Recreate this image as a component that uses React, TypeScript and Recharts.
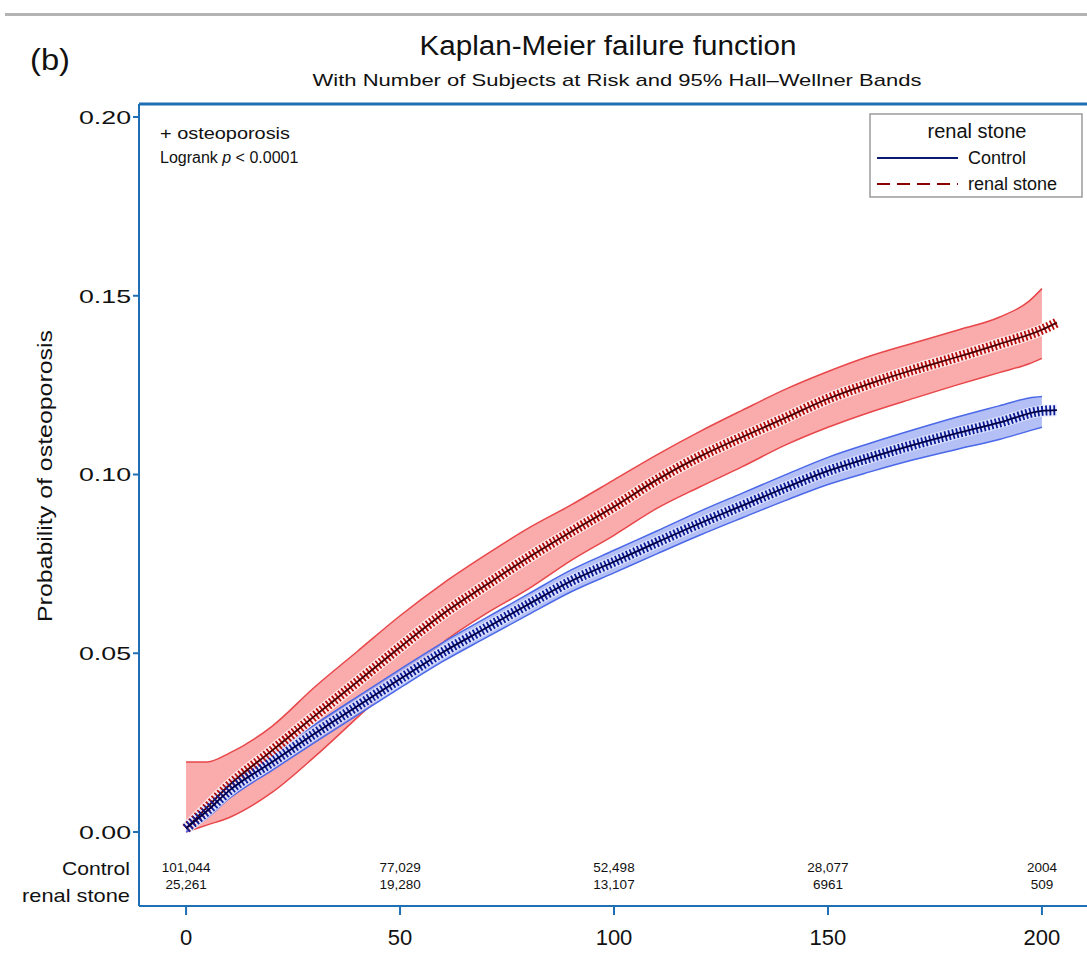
import {
  ComposedChart,
  Area,
  Line,
  Scatter,
  XAxis,
  YAxis,
  ReferenceLine,
} from "recharts";

// follow-up time points (months) for the KM estimates
const lineTimes = [0, 5, 10, 20, 30, 40, 50, 60, 70, 80, 90, 100, 110, 120, 130, 140, 150, 160, 170, 180, 190, 200, 203.5];
const controlKm = [0.001, 0.006, 0.0115, 0.0195, 0.0275, 0.0352, 0.0428, 0.0503, 0.057, 0.0637, 0.0702, 0.0756, 0.081, 0.0863, 0.0913, 0.0963, 0.101, 0.1048, 0.1083, 0.1115, 0.1145, 0.1178, 0.118];
const stoneKm = [0.001, 0.007, 0.013, 0.0227, 0.0324, 0.042, 0.0517, 0.061, 0.069, 0.0768, 0.084, 0.091, 0.0985, 0.105, 0.1105, 0.1158, 0.1212, 0.1255, 0.1293, 0.1328, 0.1365, 0.1405, 0.1425];

// 95% Hall-Wellner bands
const bandTimes = [0, 5, 10, 20, 30, 40, 50, 60, 70, 80, 90, 100, 110, 120, 130, 140, 150, 160, 170, 180, 190, 197, 200];
const controlLow = [0.0, 0.004, 0.0093, 0.0172, 0.025, 0.0327, 0.0403, 0.0477, 0.0543, 0.0608, 0.0672, 0.0725, 0.0778, 0.083, 0.0879, 0.0927, 0.0972, 0.1008, 0.1041, 0.107, 0.1098, 0.1122, 0.1132];
const controlHigh = [0.003, 0.0082, 0.0138, 0.0219, 0.03, 0.0378, 0.0455, 0.053, 0.0598, 0.0666, 0.0733, 0.0788, 0.0842, 0.0897, 0.0948, 0.0999, 0.1048, 0.1088, 0.1125, 0.116, 0.1192, 0.1214, 0.1218];
const stoneLow = [0.0, 0.002, 0.004, 0.011, 0.021, 0.032, 0.043, 0.053, 0.061, 0.068, 0.076, 0.083, 0.0905, 0.0965, 0.1022, 0.1082, 0.1132, 0.1175, 0.1213, 0.125, 0.1285, 0.131, 0.1325];
const stoneHigh = [0.0196, 0.0196, 0.022, 0.0295, 0.0405, 0.0505, 0.0605, 0.0695, 0.0775, 0.085, 0.0915, 0.0985, 0.1055, 0.112, 0.118, 0.1238, 0.1288, 0.1332, 0.1368, 0.1403, 0.144, 0.1485, 0.152];

// number at risk table
const riskTimes = [0, 50, 100, 150, 200];
const riskControl = ["101,044", "77,029", "52,498", "28,077", "2004"];
const riskStone = ["25,261", "19,280", "13,107", "6961", "509"];

const xTicks = [0, 50, 100, 150, 200];
const yTicks = [0, 0.05, 0.1, 0.15, 0.2];

const AXIS = "#1f6fb4";
const FONT = "'Liberation Sans', Arial, sans-serif";
const X_DOMAIN: [number, number] = [-11, 212.4];
const Y_DOMAIN: [number, number] = [-0.0207, 0.20364];

const lineData = lineTimes.map((t, i) => ({ t, control: controlKm[i], stone: stoneKm[i] }));
const bandData = bandTimes.map((t, i) => ({
  t,
  controlBand: [controlLow[i], controlHigh[i]],
  stoneBand: [stoneLow[i], stoneHigh[i]],
}));
const CONTROL_ROW = -0.0097;
const STONE_ROW = -0.0146;
const riskData = [
  ...riskTimes.map((t, i) => ({ t, y: CONTROL_ROW, n: riskControl[i] })),
  ...riskTimes.map((t, i) => ({ t, y: STONE_ROW, n: riskStone[i] })),
];

function YTick(props: any) {
  const { x, y, payload } = props;
  return (
    <text x={x} y={y} dy="0.36em" textAnchor="end" fontSize={19} fontFamily={FONT} fill="#111" textLength={52} lengthAdjust="spacingAndGlyphs">
      {payload.value.toFixed(2)}
    </text>
  );
}

function XTick(props: any) {
  const { x, y, payload } = props;
  return (
    <text x={x} y={y + 30} textAnchor="middle" fontSize={22} fontFamily={FONT} fill="#111">
      {payload.value}
    </text>
  );
}

function RiskLabel(props: any) {
  const { cx, cy, payload } = props;
  return (
    <text x={cx} y={cy} dy="0.36em" textAnchor="middle" fontSize={13.5} fontFamily={FONT} fill="#111">
      {payload.n}
    </text>
  );
}

export default function App() {
  return (
    <div style={{ position: "absolute", left: 0, top: 0, width: 1087, height: 953, overflow: "hidden", background: "#fff" }}>
      <div style={{ position: "absolute", left: 5, right: 0, top: 13, height: 3, background: "#b4b4b4" }} />
      <ComposedChart
        width={1100}
        height={953}
        margin={{ top: 104, right: 5, left: 0, bottom: 0 }}
        style={{ position: "absolute", left: 0, top: 0 }}
      >
        <XAxis
          dataKey="t"
          type="number"
          domain={X_DOMAIN}
          allowDataOverflow
          ticks={xTicks}
          height={47}
          tickSize={9}
          tickMargin={0}
          stroke={AXIS}
          axisLine={{ stroke: AXIS, strokeWidth: 2 }}
          tickLine={{ stroke: AXIS, strokeWidth: 2 }}
          tick={<XTick />}
        />
        <YAxis
          type="number"
          domain={Y_DOMAIN}
          allowDataOverflow
          ticks={yTicks}
          width={139}
          tickSize={6}
          tickMargin={2}
          axisLine={{ stroke: AXIS, strokeWidth: 2 }}
          tickLine={{ stroke: AXIS, strokeWidth: 2 }}
          tick={<YTick />}
        />
        <ReferenceLine y={Y_DOMAIN[1]} stroke={AXIS} strokeWidth={3} ifOverflow="visible" />
        <Area data={bandData} dataKey="stoneBand" type="monotone" stroke="#e8474a" strokeWidth={1.5} fill="#f88f8f" fillOpacity={0.75} isAnimationActive={false} />
        <Area data={bandData} dataKey="controlBand" type="monotone" stroke="#4a68e8" strokeWidth={1.5} fill="#9aaaf2" fillOpacity={0.75} isAnimationActive={false} />
        <Line data={lineData} dataKey="stone" type="monotone" stroke="#ffffff" strokeOpacity={0.75} strokeWidth={12} dot={false} isAnimationActive={false} />
        <Line data={lineData} dataKey="control" type="monotone" stroke="#e4e8ff" strokeOpacity={0.8} strokeWidth={12} dot={false} isAnimationActive={false} />
        <Line data={lineData} dataKey="stone" type="monotone" stroke="#b80c0c" strokeWidth={10} strokeDasharray="1.8 2.2" dot={false} isAnimationActive={false} />
        <Line data={lineData} dataKey="stone" type="monotone" stroke="#4a0000" strokeWidth={1.8} dot={false} isAnimationActive={false} />
        <Line data={lineData} dataKey="control" type="monotone" stroke="#0c1c98" strokeWidth={10} strokeDasharray="1.8 2.2" dot={false} isAnimationActive={false} />
        <Line data={lineData} dataKey="control" type="monotone" stroke="#000048" strokeWidth={1.8} dot={false} isAnimationActive={false} />
        <Scatter data={riskData} dataKey="y" shape={<RiskLabel />} isAnimationActive={false} />
      </ComposedChart>

      <svg width={1087} height={953} style={{ position: "absolute", left: 0, top: 0, pointerEvents: "none" }}>
        <text x={30} y={70} fontSize={30} fontFamily={FONT} fill="#111" textLength={40} lengthAdjust="spacingAndGlyphs">(b)</text>
        <text x={608} y={55} textAnchor="middle" fontSize={27} fontFamily="'Liberation Sans Narrow', 'Liberation Sans', sans-serif" fill="#111" textLength={377} lengthAdjust="spacingAndGlyphs">
          Kaplan-Meier failure function
        </text>
        <text x={617} y={86} textAnchor="middle" fontSize={17} fontFamily="'Liberation Sans Narrow', 'Liberation Sans', sans-serif" fill="#111" textLength={609} lengthAdjust="spacingAndGlyphs">
          With Number of Subjects at Risk and 95% Hall–Wellner Bands
        </text>
        <text x={160} y={139} fontSize={16} fontFamily={FONT} fill="#111" textLength={130} lengthAdjust="spacingAndGlyphs">+ osteoporosis</text>
        <text x={160} y={163} fontSize={16} fontFamily={FONT} fill="#111">
          Logrank <tspan fontStyle="italic">p</tspan> &lt; 0.0001
        </text>
        <text transform="translate(45,476) rotate(-90)" textAnchor="middle" dy="0.36em" fontSize={20} fontFamily={FONT} fill="#111" textLength={292} lengthAdjust="spacingAndGlyphs">
          Probability of osteoporosis
        </text>
        <text x={130} y={875} textAnchor="end" fontSize={19} fontFamily={FONT} fill="#111" textLength={68} lengthAdjust="spacingAndGlyphs">Control</text>
        <text x={130} y={902} textAnchor="end" fontSize={19} fontFamily={FONT} fill="#111" textLength={108} lengthAdjust="spacingAndGlyphs">renal stone</text>

        <rect x={870} y={114} width={212} height={83} fill="#fff" stroke="#9a9a9a" strokeWidth={1.5} />
        <text x={977} y={138} textAnchor="middle" fontSize={20} fontFamily={FONT} fill="#111">renal stone</text>
        <line x1={877} x2={958} y1={158} y2={158} stroke="#0a1a70" strokeWidth={2} />
        <text x={968} y={164} fontSize={18} fontFamily={FONT} fill="#111">Control</text>
        <line x1={877} x2={958} y1={184} y2={184} stroke="#8b0000" strokeWidth={2} strokeDasharray="13 7" />
        <text x={968} y={190} fontSize={18} fontFamily={FONT} fill="#111">renal stone</text>
      </svg>
    </div>
  );
}
